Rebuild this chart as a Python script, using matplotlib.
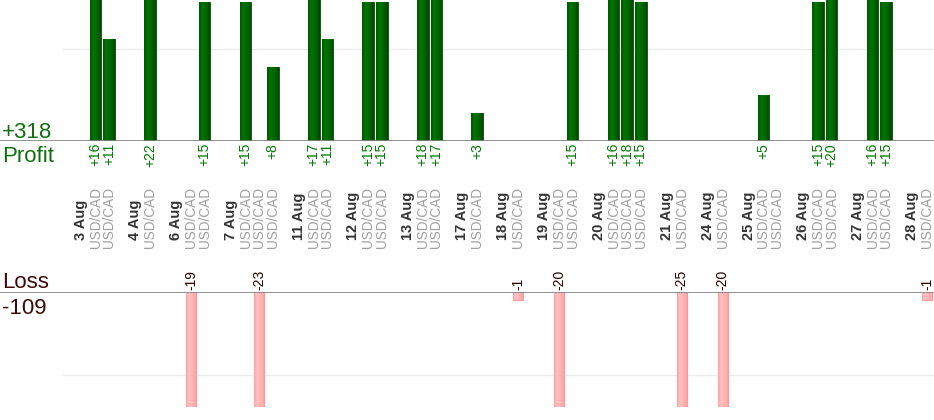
import numpy as np
import matplotlib
matplotlib.use("Agg")
import matplotlib.pyplot as plt
from matplotlib import transforms
from matplotlib.colors import LinearSegmentedColormap

plt.rcParams['font.family'] = ['Liberation Sans', 'DejaVu Sans']

# ---- data ----
dates = ["3 Aug", "4 Aug", "6 Aug", "7 Aug", "11 Aug", "12 Aug", "13 Aug", "17 Aug",
         "18 Aug", "19 Aug", "20 Aug", "21 Aug", "24 Aug", "25 Aug", "26 Aug", "27 Aug", "28 Aug"]
trades_per_day = [2, 1, 2, 3, 2, 2, 2, 1, 1, 2, 3, 1, 1, 2, 2, 2, 1]
symbol = "USD/CAD"
results = [16, 11,
           22,
           -19, 15,
           15, -23, 8,
           17, 11,
           15, 15,
           18, 17,
           3,
           -1,
           -20, 15,
           16, 18, 15,
           -25,
           -20,
           5, 0,
           15, 20,
           16, 15,
           -1]

# ---- layout ----
W, H = 934, 420
def fy(py):
    return 1 - py / H

fig = plt.figure(figsize=(W / 100, H / 100), dpi=100)
ax_p = fig.add_axes([0, fy(141), 1, 141 / H])
ax_l = fig.add_axes([0, fy(407), 1, 115 / H])

# slot positions: date label slot, then one slot per trade, then a blank slot
xs_date, xs_trade = [], []
slot = 0
for n in trades_per_day:
    xs_date.append(slot)
    slot += 1
    for _ in range(n):
        xs_trade.append(slot)
        slot += 1
    slot += 1

pitch = 13.63
x0px = 82
xlim = (-x0px / pitch, (W - x0px) / pitch)

vals = np.array(results)
xs = np.array(xs_trade)
pos = np.where(vals > 0, vals, 0)
neg = np.where(vals < 0, vals, 0)

green_cmap = LinearSegmentedColormap.from_list(
    "g", [(0, "#005800"), (0.3, "#007600"), (0.65, "#006200"), (1, "#004800")])
red_cmap = LinearSegmentedColormap.from_list(
    "r", [(0, "#ff9c9c"), (0.12, "#ffb4b4"), (0.35, "#ffc2c2"), (0.85, "#ffa6a6"), (1, "#ff9a9a")])

def grad_fill(ax, patches, cmap):
    grad = np.linspace(0, 1, 64).reshape(1, -1)
    for p in patches:
        h = p.get_height()
        if h == 0:
            continue
        xa, ya, w = p.get_x(), p.get_y(), p.get_width()
        im = ax.imshow(grad, extent=[xa, xa + w, ya, ya + h], aspect='auto', cmap=cmap,
                       origin='lower', interpolation='bilinear', zorder=3)
        im.set_clip_path(p.get_path(), p.get_transform())

bars_p = ax_p.bar(xs[vals > 0], pos[vals > 0], width=0.85, color="#006600",
                  edgecolor="#005000", linewidth=0.6, zorder=2)
grad_fill(ax_p, bars_p, green_cmap)
bars_l = ax_l.bar(xs[vals < 0], neg[vals < 0], width=0.74, color="#ffb0b0",
                  edgecolor="#ff9999", linewidth=0.8, zorder=2)
grad_fill(ax_l, bars_l, red_cmap)

for ax in (ax_p, ax_l):
    ax.set_xlim(*xlim)
    ax.axis('off')
    ax.axhline(0, color="#808080", lw=1.2, zorder=5)
ax_p.set_ylim(0, 15.25)
ax_l.set_ylim(-13.8, 0)
ax_p.axhline(10, xmin=63 / W, xmax=1, color="#ebebeb", lw=1, zorder=1)
ax_l.axhline(-10, xmin=63 / W, xmax=1, color="#ebebeb", lw=1, zorder=1)

# ---- texts ----
tr = transforms.blended_transform_factory(ax_p.transData, fig.transFigure)
green_txt = "#007700"
for x, v in zip(xs_trade, results):
    if v > 0:
        fig.text(x, fy(143), f"+{v}", transform=tr, rotation=90, ha='center', va='top',
                 fontsize=10, color=green_txt)
    elif v < 0:
        fig.text(x, fy(290.5), f"{v}", transform=tr, rotation=90, ha='center', va='bottom',
                 fontsize=10, color="#2a0000")

for x, d in zip(xs_date, dates):
    fig.text(x - 0.1, fy(240), d, transform=tr, rotation=90, ha='center', va='bottom',
             fontsize=10.5, fontweight='bold', color="#333333")
for x in xs_trade:
    fig.text(x, fy(248), symbol, transform=tr, rotation=90, ha='center', va='bottom',
             fontsize=9.8, color="#a0a0a0")

total_profit = int(pos.sum())
total_loss = int(neg.sum())
fig.text(2 / W, fy(138), f"+{total_profit}", fontsize=16, color="#107010", va='baseline')
fig.text(2 / W, fy(162), "Profit", fontsize=16, color="#107010", va='baseline')
fig.text(2 / W, fy(287.5), "Loss", fontsize=16, color="#3a0a0a", va='baseline')
fig.text(2 / W, fy(314), f"{total_loss}", fontsize=16, color="#3a0a0a", va='baseline')

fig.savefig("out.png", dpi=100, facecolor="white")
